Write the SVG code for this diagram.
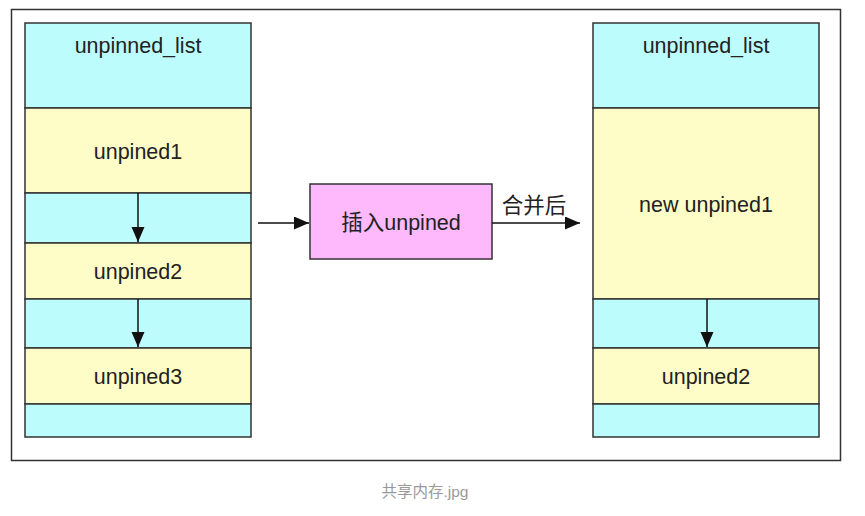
<svg xmlns="http://www.w3.org/2000/svg" width="865" height="516" viewBox="0 0 865 516">
<style>
.cy{fill:#BDFCFC;stroke:#333;stroke-width:1.5}
.ye{fill:#FFFDC7;stroke:#333;stroke-width:1.5}
.pk{fill:#FDB9FC;stroke:#333;stroke-width:1.5}
.t{font-family:"Liberation Sans",Arial,"Noto Sans CJK SC",sans-serif;font-size:21.5px;fill:#222;text-anchor:middle}
.c{stroke:#111;stroke-width:1.5;fill:none;marker-end:url(#ah)}
</style>
<defs>
<marker id="ah" markerUnits="userSpaceOnUse" markerWidth="16" markerHeight="14" refX="15" refY="6.5" orient="auto">
<path d="M0,0 L15,6.5 L0,13 Z" fill="#111"/>
</marker>
</defs>
<rect x="0" y="0" width="865" height="516" fill="#fff"/>
<rect id="frame" x="11.5" y="9.5" width="829" height="451" fill="#fff" stroke="#333" stroke-width="1.5"/>
<g id="left-list">
<rect class="cy" x="25" y="23" width="226" height="85"/>
<rect class="ye" x="25" y="108" width="226" height="85"/>
<rect class="cy" x="25" y="193" width="226" height="50"/>
<rect class="ye" x="25" y="243" width="226" height="56"/>
<rect class="cy" x="25" y="299" width="226" height="49"/>
<rect class="ye" x="25" y="348" width="226" height="56"/>
<rect class="cy" x="25" y="404" width="226" height="33"/>
<text class="t" x="138" y="53">unpinned_list</text>
<text class="t" x="138" y="159">unpined1</text>
<text class="t" x="138" y="279">unpined2</text>
<text class="t" x="138" y="384">unpined3</text>
</g>
<g id="insert">
<rect class="pk" x="310" y="184" width="182" height="75"/>
<text class="t" x="401" y="230">插入unpined</text>
</g>
<g id="right-list">
<rect class="cy" x="593" y="23" width="226" height="85"/>
<rect class="ye" x="593" y="108" width="226" height="191"/>
<rect class="cy" x="593" y="299" width="226" height="49"/>
<rect class="ye" x="593" y="348" width="226" height="56"/>
<rect class="cy" x="593" y="404" width="226" height="33"/>
<text class="t" x="706" y="53">unpinned_list</text>
<text class="t" x="706" y="212">new unpined1</text>
<text class="t" x="706" y="384">unpined2</text>
</g>
<g id="connectors">
<line class="c" x1="138" y1="193" x2="138" y2="242"/>
<line class="c" x1="138" y1="299" x2="138" y2="347"/>
<line class="c" x1="707" y1="299" x2="707" y2="347"/>
<line class="c" x1="258" y1="223" x2="309" y2="223"/>
<line class="c" x1="492" y1="223" x2="580" y2="223"/>
<text class="t" x="534" y="213">合并后</text>
</g>
<text x="425" y="497" font-family="'Liberation Sans','Noto Sans CJK SC',sans-serif" font-size="15.5" fill="#999" text-anchor="middle">共享内存.jpg</text>
</svg>
